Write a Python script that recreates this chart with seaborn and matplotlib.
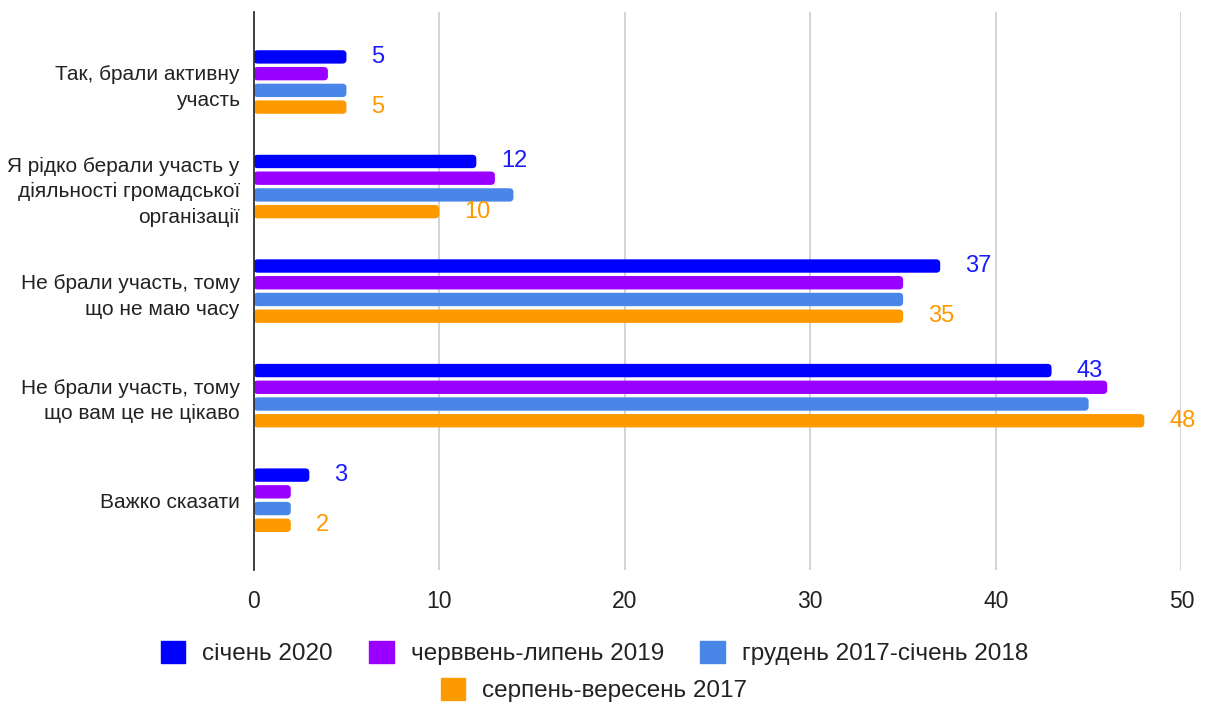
import pandas as pd
import seaborn as sns
import matplotlib.pyplot as plt
from matplotlib.patches import Patch, FancyBboxPatch

# Дані
categories = [
    'Так, брали активну\nучасть',
    'Я рідко берали участь у\nдіяльності громадської\nорганізації',
    'Не брали участь, тому\nщо не маю часу',
    'Не брали участь, тому\nщо вам це не цікаво',
    'Важко сказати',
]
series = ['січень 2020', 'черввень-липень 2019', 'грудень 2017-січень 2018', 'серпень-вересень 2017']
jan_2020 = [5, 12, 37, 43, 3]
jun_jul_2019 = [4, 13, 35, 46, 2]
dec2017_jan2018 = [5, 14, 35, 45, 2]
aug_sep_2017 = [5, 10, 35, 48, 2]
colors = ['#0000ff', '#9900ff', '#4a86e8', '#ff9900']

values = [jan_2020, jun_jul_2019, dec2017_jan2018, aug_sep_2017]
rows = []
for s, vals in zip(series, values):
    for c, v in zip(categories, vals):
        rows.append({'category': c, 'series': s, 'value': v})
df = pd.DataFrame(rows)

sns.set_style('white')
plt.rcParams['font.family'] = ['Liberation Sans', 'DejaVu Sans']

fig = plt.figure(figsize=(12.08, 7.04), dpi=100)
ax = fig.add_axes([0.210, 0.190, 0.768, 0.793])

sns.barplot(data=df, y='category', x='value', hue='series', orient='h',
            palette=colors, width=0.64, gap=0.2, ax=ax, legend=False,
            saturation=1)

ax.set_xlim(0, 50)
ax.set_ylim(4.67, -0.67)

# abgerundete Balkenenden
for patch in list(ax.patches):
    x, y = patch.get_xy()
    w, h = patch.get_width(), patch.get_height()
    rounded = FancyBboxPatch((x, y), w, h,
                             boxstyle='round,pad=0,rounding_size=0.22',
                             mutation_aspect=0.17,
                             facecolor=patch.get_facecolor(), edgecolor='none',
                             zorder=patch.get_zorder())
    ax.add_patch(rounded)
    patch.set_visible(False)

# Werte nur für erste und letzte Serie
ax.bar_label(ax.containers[0], labels=[str(v) for v in jan_2020],
             padding=18, color='#1a1aff', fontsize=17)
ax.bar_label(ax.containers[3], labels=[str(v) for v in aug_sep_2017],
             padding=18, color='#ff9900', fontsize=17)

ax.set_xticks([0, 10, 20, 30, 40, 50])
ax.xaxis.grid(True, color='#cccccc', linewidth=1.2)
ax.set_axisbelow(True)
for side in ['top', 'right', 'bottom']:
    ax.spines[side].set_visible(False)
ax.spines['left'].set_color('#333333')
ax.spines['left'].set_linewidth(1.3)
ax.spines['left'].set_zorder(5)
ax.set_xlabel('')
ax.set_ylabel('')
ax.tick_params(axis='x', length=0, pad=14, labelsize=16.5, labelcolor='#222222')
ax.tick_params(axis='y', length=0, pad=10, labelsize=15, labelcolor='#222222')
for lbl in ax.get_yticklabels():
    lbl.set_linespacing(1.45)
    lbl.set_horizontalalignment('right')
    lbl.set_multialignment('right')

# Legende unten, zweite Zeile zentriert
handles = [Patch(facecolor=c, edgecolor=c) for c in colors]
fig.legend(handles[:3], series[:3], loc='center', bbox_to_anchor=(0.492, 0.072),
           ncol=3, frameon=False, fontsize=17.5, handlelength=1.0, handleheight=1.0,
           handletextpad=0.7, columnspacing=1.5, labelcolor='#222222')
fig.legend(handles[3:], series[3:], loc='center', bbox_to_anchor=(0.492, 0.02),
           ncol=1, frameon=False, fontsize=17.5, handlelength=1.0, handleheight=1.0,
           handletextpad=0.7, labelcolor='#222222')

plt.savefig('out.png', dpi=100)
